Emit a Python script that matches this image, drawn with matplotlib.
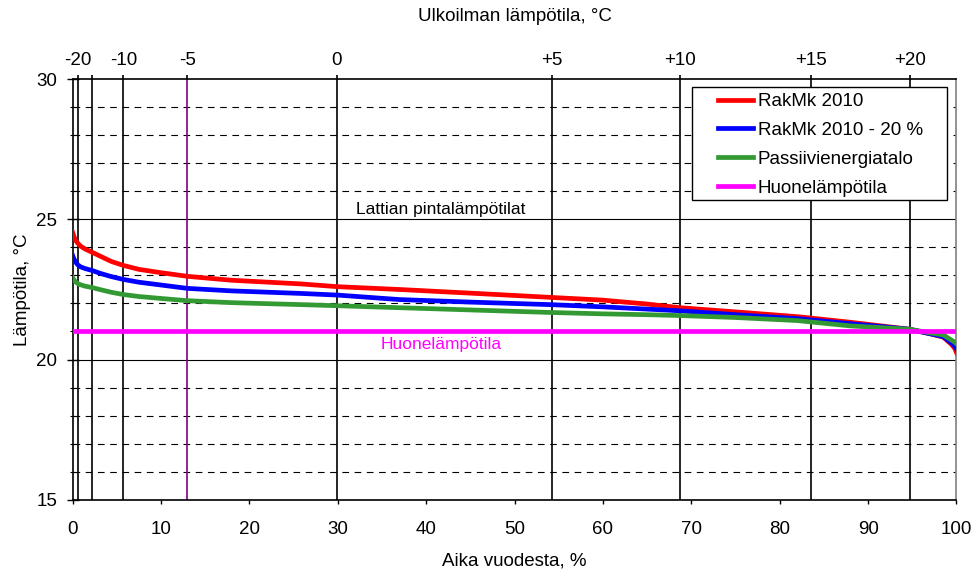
import matplotlib
matplotlib.use("Agg")
import matplotlib.pyplot as plt
from matplotlib.patches import Rectangle
import numpy as np

plt.rcParams['font.family'] = ['Liberation Sans', 'DejaVu Sans']

# Data
x_pct = [0, 0.15, 0.35, 0.6, 0.9, 1.4, 2.2, 3.2, 4.4, 5.75, 7.5, 10, 13, 18, 25.8, 30, 37,
         45, 54, 60, 65, 68.7, 75, 82, 88, 94.7, 97, 98.5, 99.4, 99.8, 100]
rakmk = [24.55, 24.4, 24.25, 24.15, 24.05, 23.95, 23.83, 23.68, 23.5, 23.36, 23.22, 23.1,
         22.97, 22.83, 22.7, 22.6, 22.5, 22.37, 22.22, 22.12, 21.98, 21.85, 21.7, 21.53,
         21.33, 21.08, 20.92, 20.8, 20.55, 20.4, 20.25]
rakmk20 = [23.72, 23.6, 23.48, 23.38, 23.31, 23.25, 23.18, 23.07, 22.96, 22.86, 22.76, 22.66,
           22.54, 22.45, 22.36, 22.3, 22.14, 22.05, 21.96, 21.88, 21.8, 21.74, 21.6, 21.46,
           21.28, 21.08, 20.92, 20.82, 20.6, 20.48, 20.38]
passiivi = [22.93, 22.85, 22.77, 22.71, 22.67, 22.62, 22.57, 22.49, 22.4, 22.32, 22.25, 22.18,
            22.1, 22.03, 21.96, 21.92, 21.85, 21.77, 21.68, 21.63, 21.6, 21.57, 21.5, 21.39,
            21.2, 21.08, 20.95, 20.88, 20.7, 20.62, 20.56]
room_temp = 21.0

outdoor_pos = [0.62, 2.17, 5.75, 12.99, 29.9, 54.2, 68.7, 83.5, 94.7]
outdoor_labels = ['-20', '', '-10', '-5', '0', '+5', '+10', '+15', '+20']

fig = plt.figure(figsize=(9.75, 5.71), dpi=100)
ax = fig.add_axes([0.0744, 0.1252, 0.9066, 0.7356])

ax.set_xlim(0, 100)
ax.set_ylim(15, 30)

# grid lines
for v in range(16, 30):
    if v % 5 == 0:
        ax.axhline(v, color='black', lw=0.8, zorder=1)
    else:
        ax.axhline(v, color='black', lw=0.8, ls=(0, (6, 5)), zorder=1)

for p, lab in zip(outdoor_pos, outdoor_labels):
    c = '#800080' if lab == '-5' else 'black'
    ax.axvline(p, color=c, lw=1.2, zorder=1)

ax.plot(x_pct, rakmk, color='#ff0000', lw=3.4, label='RakMk 2010', zorder=3)
ax.plot(x_pct, rakmk20, color='#0000ff', lw=3.4, label='RakMk 2010 - 20 %', zorder=4)
ax.plot(x_pct, passiivi, color='#339933', lw=3.4, label='Passiivienergiatalo', zorder=5)
ax.plot([0, 100], [room_temp, room_temp], color='#ff00ff', lw=3.4, label='Huonelämpötila', zorder=6)

ax.text(41.7, 25.08, 'Lattian pintalämpötilat', fontsize=12.5, ha='center', va='bottom')
ax.text(41.7, 20.82, 'Huonelämpötila', fontsize=12.5, ha='center', va='top', color='#ff00ff')

ax.set_xticks(np.arange(0, 101, 10))
ax.set_yticks([15, 20, 25, 30])
ax.set_yticks(range(15, 31), minor=True)
ax.tick_params(axis='y', labelsize=13.5, direction='inout', length=8, width=1, pad=7)
ax.tick_params(axis='y', which='minor', direction='inout', length=5, width=0.8)
ax.tick_params(axis='x', labelsize=13.5, direction='out', length=3, width=1, pad=12.5)
for s in ax.spines.values():
    s.set_linewidth(1.2)
ax.spines['right'].set_color('#808080')

ax.set_xlabel('Aika vuodesta, %', fontsize=13.5, labelpad=10.5)
ax.set_ylabel('Lämpötila, °C', fontsize=13.5, labelpad=4)

top = ax.twiny()
top.set_xlim(0, 100)
top.set_xticks(outdoor_pos)
top.set_xticklabels(outdoor_labels)
top.tick_params(axis='x', labelsize=13.5, direction='out', length=3, width=1.2, pad=4.2)
top.set_xlabel('Ulkoilman lämpötila, °C', fontsize=13.5, labelpad=23)
for s in top.spines.values():
    s.set_visible(False)

# legend box
ax.add_patch(Rectangle((0.7011, 0.7131), 0.2878, 0.269, transform=ax.transAxes,
                       facecolor='white', edgecolor='black', lw=1.0, zorder=7))
leg = ax.legend(loc='upper left', bbox_to_anchor=(0.7299, 0.9674), fontsize=13.5,
                frameon=False, handlelength=1.87, borderpad=0, labelspacing=0.62,
                handletextpad=0.27, borderaxespad=0)
leg.set_zorder(8)

fig.savefig('out.png', dpi=100)
